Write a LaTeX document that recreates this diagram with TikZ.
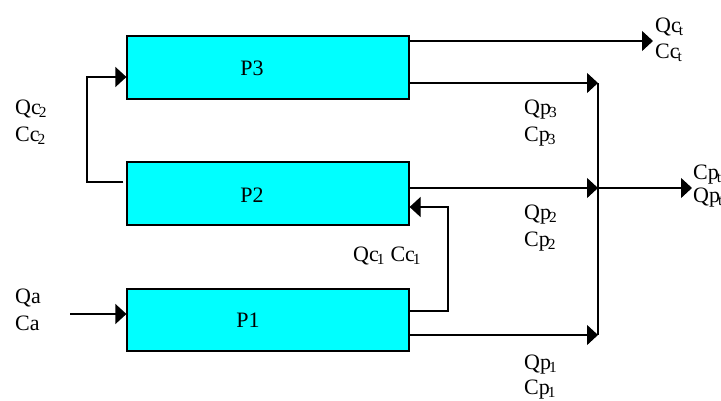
\documentclass[tikz,border=0pt]{standalone}
\usepackage{fontspec}
\setmainfont{Liberation Serif}
\usetikzlibrary{arrows.meta}
\definecolor{aqua}{RGB}{0,255,255}
\newcommand{\sbs}[1]{\kern-2pt\textsubscript{#1}}
\begin{document}
\begin{tikzpicture}[x=1pt,y=-1pt,
  proc/.style={draw, fill=aqua, line width=1.2pt, minimum width=282pt, inner sep=0pt},
  flow/.style={line width=1.2pt, -{Triangle[length=11pt,width=20pt]}},
  wire/.style={line width=1.2pt},
  txt/.style={font=\fontsize{22}{26}\selectfont, inner sep=0pt, anchor=base west},
  plab/.style={font=\fontsize{22}{26}\selectfont, inner sep=0pt}]
\useasboundingbox (0,0) rectangle (721,400);

% process boxes
\node[proc, minimum height=63pt] (P3) at (268,67.5) {};
\node[proc, minimum height=63pt] (P2) at (268,193.5) {};
\node[proc, minimum height=62pt] (P1) at (268,320) {};
\node[plab] (t3) at ([xshift=-16pt,yshift=-1pt]P3.center) {P3};
\node[plab] (t2) at ([xshift=-16pt,yshift=-2pt]P2.center) {P2};
\node[plab] (t1) at ([xshift=-20pt]P1.center) {P1};

% junction points
\coordinate (qct) at (653,41);
\coordinate (m3) at (598,83);
\coordinate (m2) at (598,188);
\coordinate (m1) at (598,335);
\coordinate (out) at (692,188);
\coordinate (r1a) at (448,311);
\coordinate (r1b) at (448,207);
\coordinate (r2a) at (87,182);
\coordinate (r2b) at (87,77);
\coordinate (qa) at (70,314);

% feed into P1
\draw[flow] (qa) -- (P1.west |- qa);

% P3 outputs
\draw[flow] (P3.east |- qct) -- (qct);
\draw[flow] (P3.east |- m3) -- (m3);

% product streams into the collector
\draw[flow] (P2.east |- m2) -- (m2);
\draw[flow] (P1.east |- m1) -- (m1);
\draw[wire] (m3) -- (m1);
\draw[flow] (m2) -- (out);

% recycle P1 -> P2
\draw[flow] (P1.east |- r1a) -- (r1a) -- (r1b) -- (P2.east |- r1b);

% recycle P2 -> P3
\draw[flow] ([xshift=-3pt]P2.west |- r2a) -- (r2a) -- (r2b) -- (P3.west |- r2b);

% stream labels
\node[txt] (lqc2) at (15,114) {Qc\sbs{2}};
\node[txt] (lcc2) at (15,141) {Cc\sbs{2}};
\node[txt] (lqa) at (15,303) {Qa};
\node[txt] (lca) at (15,330) {Ca};
\node[txt] (lc1) at (353,261) {Qc\sbs{1}\ Cc\sbs{1}};
\node[txt] (lqp3) at (524,114) {Qp\sbs{3}};
\node[txt] (lcp3) at (524,141) {Cp\sbs{3}};
\node[txt] (lqp2) at (524,219) {Qp\sbs{2}};
\node[txt] (lcp2) at (524,246) {Cp\sbs{2}};
\node[txt] (lqp1) at (524,369) {Qp\sbs{1}};
\node[txt] (lcp1) at (524,394) {Cp\sbs{1}};
\node[txt] (lqct) at (655,32) {Qc\sbs{t}};
\node[txt] (lcct) at (655,58) {Cc\sbs{t}};
\node[txt] (lcpt) at (693,179) {Cp\sbs{t}};
\node[txt] (lqpt) at (693,202) {Qp\sbs{t}};
\end{tikzpicture}
\end{document}
